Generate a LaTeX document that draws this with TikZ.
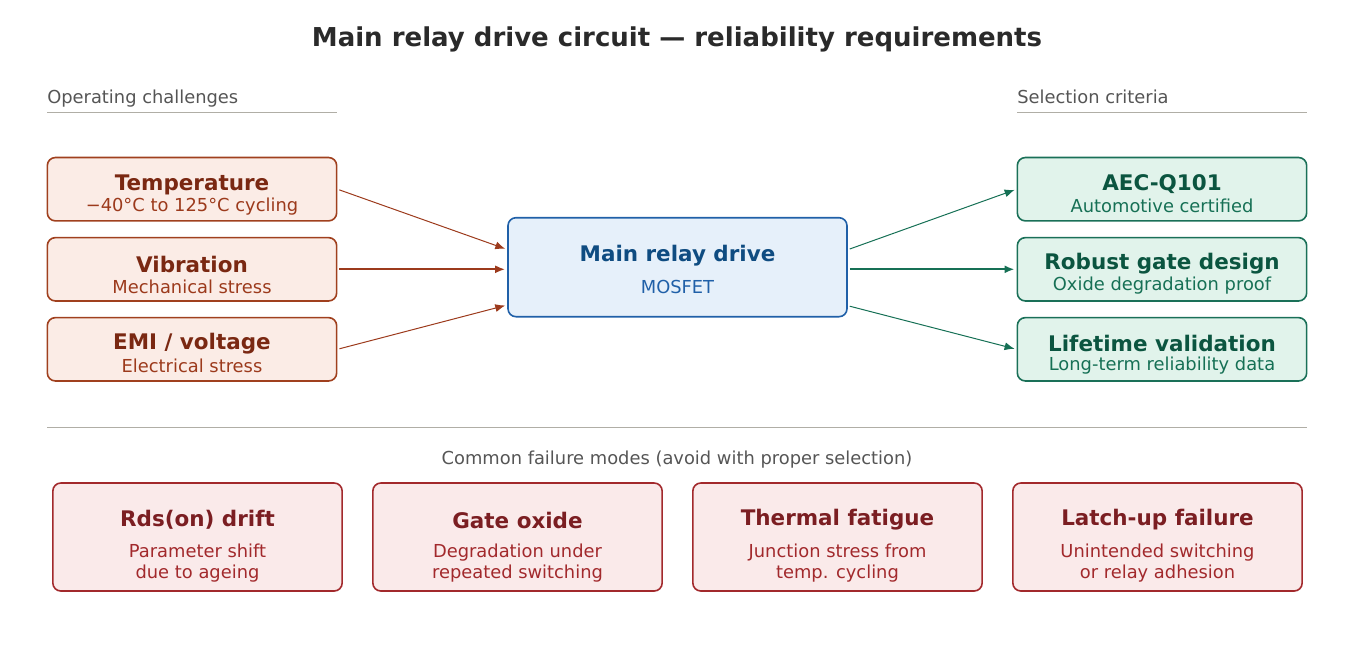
\documentclass[tikz,border=0pt]{standalone}
\usepackage{fontspec}
\setmainfont{DejaVu Sans}
\usetikzlibrary{arrows.meta,calc}

\definecolor{chafill}{HTML}{FBECE6}
\definecolor{chaline}{HTML}{A0401E}
\definecolor{chatitle}{HTML}{7A2812}
\definecolor{chatext}{HTML}{9C3A1C}
\definecolor{drvfill}{HTML}{E6F0FA}
\definecolor{drvline}{HTML}{2060A8}
\definecolor{drvtitle}{HTML}{0F4C81}
\definecolor{drvtext}{HTML}{2060A8}
\definecolor{crifill}{HTML}{E1F3EB}
\definecolor{criline}{HTML}{1A7058}
\definecolor{crititle}{HTML}{0B5540}
\definecolor{critext}{HTML}{167055}
\definecolor{failfill}{HTML}{FAEAEA}
\definecolor{failline}{HTML}{A2292C}
\definecolor{failtitle}{HTML}{7B1E22}
\definecolor{failtext}{HTML}{A2292C}
\definecolor{headgray}{HTML}{555555}
\definecolor{rulegray}{HTML}{B0AEA6}
\definecolor{titlegray}{HTML}{2A2A2A}

\begin{document}
\begin{tikzpicture}[
    x=0.75pt, y=-0.75pt,
    card/.style={rectangle, rounded corners=6pt, line width=1.2pt, inner sep=0pt,
        minimum width=217pt, minimum height=47.5pt},
    challenge/.style={card, draw=chaline, fill=chafill},
    criterion/.style={card, draw=criline, fill=crifill},
    failure/.style={card, draw=failline, fill=failfill, minimum height=81pt},
    drive/.style={card, draw=drvline, fill=drvfill, minimum width=254.25pt, minimum height=74.25pt},
    txt/.style={anchor=base, inner sep=0pt, align=center},
    cardtitle/.style={txt, font=\fontsize{16.1pt}{19pt}\selectfont\bfseries},
    cardsub/.style={txt, font=\fontsize{13.4pt}{15.75pt}\selectfont},
    heading/.style={anchor=base west, inner sep=0pt, text=headgray, font=\fontsize{13.4pt}{16pt}\selectfont},
    inarrow/.style={-{Latex[length=7.5pt,width=6pt]}, draw=chatext, line width=0.75pt,
        shorten <=1.5pt, shorten >=1.5pt},
    outarrow/.style={-{Latex[length=7.5pt,width=6pt]}, draw=critext, line width=0.75pt,
        shorten <=1.5pt, shorten >=1.5pt}
]
\useasboundingbox (0,0) rectangle (1353,646);

% Title
\node[txt, text=titlegray, font=\fontsize{19.5pt}{23pt}\selectfont\bfseries] (title) at (677,46.5)
    {Main relay drive circuit — reliability requirements};

% Column headings
\node[heading] (hleft) at (47,103.3) {Operating challenges};
\node[heading] (hright) at (1017,103.3) {Selection criteria};
\draw[rulegray, line width=0.75pt] (47,112.3) -- (337,112.3);
\draw[rulegray, line width=0.75pt] (1017,112.3) -- (1307,112.3);

% Operating challenges
\node[challenge] (temp) at (192,189.2) {};
\node[cardtitle, text=chatitle] (temp-t) at (192,190) {Temperature};
\node[cardsub, text=chatext] (temp-s) at (192,211.7) {−40°C to 125°C cycling};

\node[challenge] (vib) at (192,269.3) {};
\node[cardtitle, text=chatitle] (vib-t) at (192,272.7) {Vibration};
\node[cardsub, text=chatext] (vib-s) at (192,293.3) {Mechanical stress};

\node[challenge] (emi) at (192,349.3) {};
\node[cardtitle, text=chatitle] (emi-t) at (192,349.3) {EMI / voltage};
\node[cardsub, text=chatext] (emi-s) at (192,372.7) {Electrical stress};

% Central block
\node[drive] (drive) at (677.5,267.2) {};
\node[cardtitle, text=drvtitle] (drive-t) at (677.5,261.7) {Main relay drive};
\node[cardsub, text=drvtext] (drive-s) at (677.5,293.3) {MOSFET};

% Selection criteria
\node[criterion] (aec) at (1162,189.2) {};
\node[cardtitle, text=crititle] (aec-t) at (1162,190.7) {AEC-Q101};
\node[cardsub, text=critext] (aec-s) at (1162,212.7) {Automotive certified};

\node[criterion] (gate) at (1162,269.3) {};
\node[cardtitle, text=crititle] (gate-t) at (1162,269) {Robust gate design};
\node[cardsub, text=critext] (gate-s) at (1162,290.7) {Oxide degradation proof};

\node[criterion] (life) at (1162,349.3) {};
\node[cardtitle, text=crititle] (life-t) at (1162,351.7) {Lifetime validation};
\node[cardsub, text=critext] (life-s) at (1162,370) {Long-term reliability data};

% Edges
\draw[inarrow] (temp.east) -- ($(drive.west)+(0,-17.7)$);
\draw[inarrow, line width=1.5pt] (vib.east) -- (vib.east -| drive.west);
\draw[inarrow] (emi.east) -- ($(drive.west)+(0,37.8)$);

\draw[outarrow] ($(drive.east)+(0,-17.5)$) -- (aec.west);
\draw[outarrow, line width=1.5pt] (gate.west -| drive.east) -- (gate.west);
\draw[outarrow] ($(drive.east)+(0,38.5)$) -- (life.west);

% Failure modes (base of a two-line text is its last line)
\draw[rulegray, line width=0.75pt] (47,427.3) -- (1307,427.3);
\node[txt, text=headgray, font=\fontsize{13.4pt}{16pt}\selectfont] (fhead) at (677,464)
    {Common failure modes (avoid with proper selection)};

\node[failure] (rds) at (197.5,537) {};
\node[cardtitle, text=failtitle] (rds-t) at (197.5,526) {Rds(on) drift};
\node[cardsub, text=failtext] (rds-s) at (197.5,578.3) {Parameter shift\\due to ageing};

\node[failure] (oxide) at (517.5,537) {};
\node[cardtitle, text=failtitle] (oxide-t) at (517.5,528.3) {Gate oxide};
\node[cardsub, text=failtext] (oxide-s) at (517.5,578.3) {Degradation under\\repeated switching};

\node[failure] (fatigue) at (837.5,537) {};
\node[cardtitle, text=failtitle] (fatigue-t) at (837.5,525) {Thermal fatigue};
\node[cardsub, text=failtext] (fatigue-s) at (837.5,578.3) {Junction stress from\\temp. cycling};

\node[failure] (latch) at (1157.5,537) {};
\node[cardtitle, text=failtitle] (latch-t) at (1157.5,525) {Latch-up failure};
\node[cardsub, text=failtext] (latch-s) at (1157.5,578.3) {Unintended switching\\or relay adhesion};

\end{tikzpicture}
\end{document}
